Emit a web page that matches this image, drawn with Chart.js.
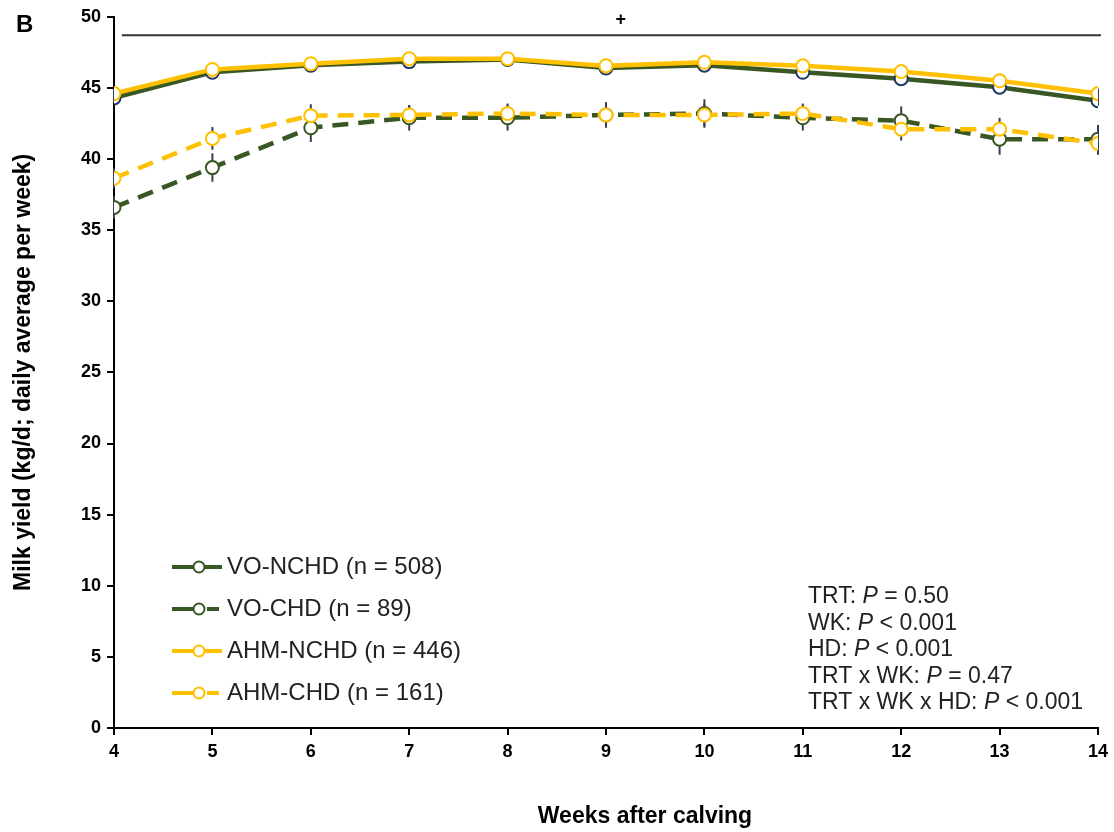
<!DOCTYPE html>
<html>
<head>
<meta charset="utf-8">
<title>Milk yield</title>
<script src="https://cdn.jsdelivr.net/npm/chart.js@4/dist/chart.umd.min.js"></script>
<style>
  html, body { margin: 0; padding: 0; background: #fff; }
  #grafica { display: block; }
</style>
</head>
<body>
<canvas id="grafica" width="1114" height="832"></canvas>
<script>
// Semanas y valores
const semanas = [4, 5, 6, 7, 8, 9, 10, 11, 12, 13, 14];
const voNchd  = [44.3, 46.1, 46.6, 46.85, 47.0, 46.4, 46.6, 46.1, 45.65, 45.05, 44.1];
const voChd   = [36.6, 39.4, 42.2, 42.9, 42.9, 43.1, 43.2, 42.9, 42.7, 41.4, 41.4];
const ahmNchd = [44.6, 46.3, 46.7, 47.05, 47.05, 46.55, 46.8, 46.55, 46.15, 45.5, 44.6];
const ahmChd  = [38.65, 41.45, 43.05, 43.1, 43.2, 43.1, 43.1, 43.2, 42.1, 42.1, 41.1];

// Errores estándar (barras verticales)
const eeVoNchd  = [0.35, 0.35, 0.35, 0.35, 0.35, 0.35, 0.35, 0.35, 0.35, 0.35, 0.35];
const eeVoChd   = [0.8, 1.0, 1.0, 0.9, 0.9, 0.9, 1.0, 0.9, 1.0, 1.1, 1.0];
const eeAhmNchd = [0.35, 0.35, 0.35, 0.35, 0.35, 0.35, 0.35, 0.35, 0.35, 0.35, 0.35];
const eeAhmChd  = [0.7, 0.8, 0.8, 0.7, 0.7, 0.8, 0.8, 0.7, 0.8, 0.8, 0.8];

const etiquetasLeyenda = ["VO-NCHD (n = 508)", "VO-CHD (n = 89)", "AHM-NCHD (n = 446)", "AHM-CHD (n = 161)"];
const ticksY = [0, 5, 10, 15, 20, 25, 30, 35, 40, 45, 50];

const VERDE = "#385723";
const AMARILLO = "#ffc000";
const FUENTE = "'Liberation Sans', Arial, sans-serif";

const aPuntos = valores => semanas.map((s, i) => ({ x: s, y: valores[i] }));

const series = [
  { label: etiquetasLeyenda[0], datos: voNchd, ee: eeVoNchd, color: VERDE, borde: "#1f3864", guiones: [], orden: 2 },
  { label: etiquetasLeyenda[1], datos: voChd, ee: eeVoChd, color: VERDE, borde: VERDE, guiones: [16, 10], orden: 2 },
  { label: etiquetasLeyenda[2], datos: ahmNchd, ee: eeAhmNchd, color: AMARILLO, borde: AMARILLO, guiones: [], orden: 1 },
  { label: etiquetasLeyenda[3], datos: ahmChd, ee: eeAhmChd, color: AMARILLO, borde: AMARILLO, guiones: [16, 10], orden: 1 }
];

// Texto de estadísticas (segmentos: [texto, cursiva])
const estadisticas = [
  [["TRT: ", false], ["P", true], [" = 0.50", false]],
  [["WK: ", false], ["P", true], [" < 0.001", false]],
  [["HD: ", false], ["P", true], [" < 0.001", false]],
  [["TRT x WK: ", false], ["P", true], [" = 0.47", false]],
  [["TRT x WK x HD: ", false], ["P", true], [" < 0.001", false]]
];

const extras = {
  id: "extras",
  beforeDatasetsDraw(chart) {
    const { ctx, scales: { x, y } } = chart;
    ctx.save();
    ctx.strokeStyle = "#3b3b55";
    ctx.lineWidth = 2;
    series.forEach(s => {
      s.datos.forEach((v, i) => {
        const px = x.getPixelForValue(semanas[i]);
        ctx.beginPath();
        ctx.moveTo(px, y.getPixelForValue(v - s.ee[i]));
        ctx.lineTo(px, y.getPixelForValue(v + s.ee[i]));
        ctx.stroke();
      });
    });
    ctx.restore();
  },
  afterDraw(chart) {
    const { ctx, scales: { x, y } } = chart;
    ctx.save();
    ctx.fillStyle = "#000";

    // Letra del panel
    ctx.font = "bold 24px " + FUENTE;
    ctx.textAlign = "left";
    ctx.textBaseline = "alphabetic";
    ctx.fillText("B", 16, 32);

    // Línea de significancia con "+"
    const ySig = y.getPixelForValue(48.7);
    ctx.strokeStyle = "#333";
    ctx.lineWidth = 2;
    ctx.beginPath();
    ctx.moveTo(x.getPixelForValue(4.08), ySig);
    ctx.lineTo(x.getPixelForValue(14.03), ySig);
    ctx.stroke();
    ctx.font = "bold 18px " + FUENTE;
    ctx.textAlign = "center";
    ctx.textBaseline = "middle";
    ctx.fillText("+", x.getPixelForValue(9.15), y.getPixelForValue(49.8));

    // Leyenda
    ctx.font = "24px " + FUENTE;
    ctx.textAlign = "left";
    ctx.textBaseline = "middle";
    const filas = [567, 609, 651, 693];
    series.forEach((s, i) => {
      const fy = filas[i];
      ctx.strokeStyle = s.color;
      ctx.lineWidth = 4;
      ctx.beginPath();
      if (s.guiones.length) {
        ctx.moveTo(172, fy); ctx.lineTo(193, fy);
        ctx.moveTo(207, fy); ctx.lineTo(219, fy);
      } else {
        ctx.moveTo(172, fy); ctx.lineTo(222, fy);
      }
      ctx.stroke();
      ctx.beginPath();
      ctx.arc(199, fy, 5.5, 0, Math.PI * 2);
      ctx.fillStyle = "#fff";
      ctx.fill();
      ctx.lineWidth = 2;
      ctx.strokeStyle = s.color;
      ctx.stroke();
      ctx.fillStyle = "#222";
      ctx.fillText(s.label, 227, fy);
    });

    // Estadísticas
    ctx.textBaseline = "middle";
    estadisticas.forEach((linea, i) => {
      let cx = 808;
      const cy = 597 + i * 26.5;
      linea.forEach(([txt, cursiva]) => {
        ctx.font = (cursiva ? "italic " : "") + "23px " + FUENTE;
        ctx.fillText(txt, cx, cy);
        cx += ctx.measureText(txt).width;
      });
    });

    // Título eje X
    ctx.font = "bold 23px " + FUENTE;
    ctx.textAlign = "center";
    ctx.fillStyle = "#000";
    ctx.fillText("Weeks after calving", 645, 817);
    ctx.restore();
  }
};

new Chart(document.getElementById("grafica"), {
  type: "line",
  data: {
    datasets: series.map(s => ({
      label: s.label,
      data: aPuntos(s.datos),
      borderColor: s.color,
      borderWidth: 4.5,
      borderDash: s.guiones,
      pointRadius: 6.5,
      pointBorderWidth: 2,
      pointBorderColor: s.borde,
      pointBackgroundColor: "#fff",
      fill: false,
      tension: 0,
      order: s.orden
    }))
  },
  options: {
    responsive: false,
    animation: false,
    devicePixelRatio: 1,
    layout: { padding: { top: 12, right: 12, left: 0, bottom: 0 } },
    plugins: {
      legend: { display: false },
      tooltip: { enabled: false }
    },
    scales: {
      x: {
        type: "linear",
        min: 4,
        max: 14,
        afterFit: scale => { scale.height = 104; },
        ticks: { stepSize: 1, color: "#000", padding: 6, font: { family: FUENTE, size: 18, weight: "bold" } },
        grid: { drawOnChartArea: false, tickLength: 7, color: "#000", lineWidth: 2 },
        border: { color: "#000", width: 2 }
      },
      y: {
        min: 0,
        max: 50,
        afterFit: scale => { scale.width = 114; },
        afterBuildTicks: scale => { scale.ticks = ticksY.map(v => ({ value: v })); },
        ticks: { color: "#000", padding: 6, font: { family: FUENTE, size: 18, weight: "bold" } },
        grid: { drawOnChartArea: false, tickLength: 7, color: "#000", lineWidth: 2 },
        border: { color: "#000", width: 2 },
        title: {
          display: true,
          text: "Milk yield (kg/d; daily average per week)",
          color: "#000",
          font: { family: FUENTE, size: 23, weight: "bold" },
          padding: { top: 10, bottom: 0 }
        }
      }
    }
  },
  plugins: [extras]
});
</script>
</body>
</html>
